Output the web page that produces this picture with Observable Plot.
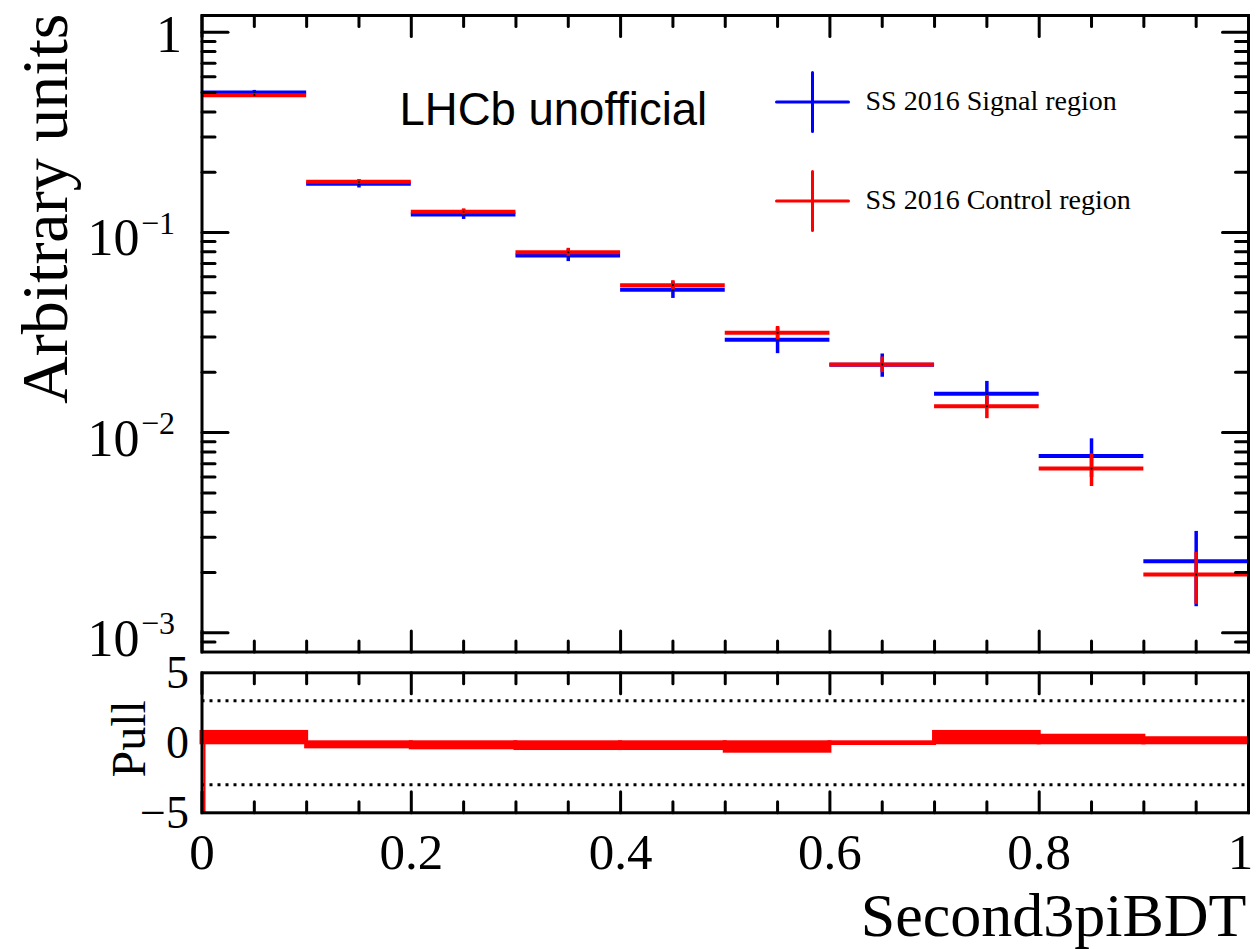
<!DOCTYPE html>
<html>
<head>
<meta charset="utf-8">
<script src="https://cdn.jsdelivr.net/npm/d3@7"></script>
<script src="https://cdn.jsdelivr.net/npm/@observablehq/plot@0.6"></script>
<style>
html, body { margin: 0; padding: 0; background: #fff; overflow: hidden; }
#chart svg { display: block; overflow: visible; }
</style>
</head>
<body>
<div id="chart"></div>
<script>
// ---------------- data ----------------
const binEdges = [0, 0.1, 0.2, 0.3, 0.4, 0.5, 0.6, 0.7, 0.8, 0.9, 1.0];
const signalValues  = [0.500, 0.1749, 0.1229, 0.0767, 0.0517, 0.0291, 0.0218, 0.01562, 0.00764, 0.00228];
const signalErrors  = [0.012, 0.0082, 0.0068, 0.0052, 0.0049, 0.0043, 0.0029, 0.0024, 0.00167, 0.00093];
const controlValues = [0.4845, 0.179, 0.1267, 0.0796, 0.0545, 0.0315, 0.0219, 0.01354, 0.00661, 0.001955];
const controlErrors = [0.005, 0.004, 0.0044, 0.0037, 0.0029, 0.0024, 0.00197, 0.0018, 0.00123, 0.00057];
const pullValues    = [0.74, -0.29, -0.36, -0.41, -0.41, -0.6, -0.05, 0.74, 0.47, 0.29];
const pullUnderflow = [{x: 0, pull: -5}];
const pullBand = [-3, 3];

const seriesNames  = ["SS 2016 Signal region", "SS 2016 Control region"];
const seriesColors = ["#0000ff", "#ff0000"];

const xMajorTicks = [0, 0.2, 0.4, 0.6, 0.8, 1];
const xTickLabels = ["0", "0.2", "0.4", "0.6", "0.8", "1"];
const xMinorTicks = [0.05, 0.1, 0.15, 0.25, 0.3, 0.35, 0.45, 0.5, 0.55, 0.65, 0.7, 0.75, 0.85, 0.9, 0.95];
const yMajorTicks = [1, 0.1, 0.01, 0.001];
const yTickBase = ["1", "10", "10", "10"];
const yTickExponent = ["", "\u22121", "\u22122", "\u22123"];
const pullTicks = [5, 0, -5];
const pullTickLabels = ["5", "0", "\u22125"];

const yDomain = [8.02e-4, 1.212];
const yMinorTicks = [];
for (let e = -4; e <= 0; e++) for (let k = 2; k <= 9; k++) {
  const v = k * Math.pow(10, e);
  if (v > yDomain[0] && v < yDomain[1]) yMinorTicks.push(v);
}

// ---------------- tables ----------------
const bins = d3.range(binEdges.length - 1).map(i => ({lo: binEdges[i], hi: binEdges[i + 1], c: (binEdges[i] + binEdges[i + 1]) / 2}));
const series = [
  {name: seriesNames[0], color: seriesColors[0], rows: bins.map((b, i) => ({...b, v: signalValues[i], e: signalErrors[i]}))},
  {name: seriesNames[1], color: seriesColors[1], rows: bins.map((b, i) => ({...b, v: controlValues[i], e: controlErrors[i]}))}
];
const pullRows = bins.map((b, i) => ({...b, pull: pullValues[i]}));
const yLabelRows = yMajorTicks.map((v, i) => ({v, base: yTickBase[i], exp: yTickExponent[i]}));
const xLabelRows = xMajorTicks.map((v, i) => ({v, label: xTickLabels[i]}));

// ---------------- helpers ----------------
const SERIF = "Liberation Serif";
const tickShape = {draw(ctx, l) { ctx.moveTo(0, 0); ctx.lineTo(0, -l); }};
const crossShape = {draw(ctx, l) { ctx.moveTo(-36, 0); ctx.lineTo(36, 0); ctx.moveTo(0, -29.5); ctx.lineTo(0, 29.5); }};

function edgeTicks(values, side, length) {
  const common = {length, anchor: "start", shape: tickShape, stroke: "black", strokeWidth: 3};
  if (side === "bottom") return Plot.vector(values, {...common, x: d => d, frameAnchor: "bottom", rotate: 0});
  if (side === "top") return Plot.vector(values, {...common, x: d => d, frameAnchor: "top", rotate: 180});
  if (side === "left") return Plot.vector(values, {...common, y: d => d, frameAnchor: "left", rotate: 90});
  return Plot.vector(values, {...common, y: d => d, frameAnchor: "right", rotate: -90});
}

const W = 1258;
const ML = 201.5, MR = 10;

// ---------------- top panel ----------------
const topH = 662, topMT = 15, topMB = 10.5;
const dataMarks = [];
for (const s of series) {
  dataMarks.push(Plot.ruleY(s.rows, {x1: "lo", x2: "hi", y: "v", stroke: s.color, strokeWidth: 4}));
  dataMarks.push(Plot.ruleX(s.rows, {x: "c", y1: d => d.v - d.e, y2: d => d.v + d.e, stroke: s.color, strokeWidth: 3.5}));
  dataMarks.push(Plot.dot(s.rows, {x: "c", y: "v", r: 1.1, fill: "black"}));
}
const legendMarks = [];
series.forEach((s, i) => {
  const dy = 101 - topMT + i * 99;
  legendMarks.push(Plot.vector([s.name], {frameAnchor: "top-left", dx: 812 - ML, dy, length: 1, shape: crossShape, stroke: s.color, strokeWidth: 3}));
  legendMarks.push(Plot.text([s.name], {text: d => d, frameAnchor: "top-left", dx: 865 - ML, dy, textAnchor: "start", lineAnchor: "middle", fontSize: 28, fontFamily: SERIF}));
});

const mainPanel = Plot.plot({
  width: W, height: topH,
  marginLeft: ML, marginRight: MR, marginTop: topMT, marginBottom: topMB,
  style: {fontFamily: SERIF, background: "white"},
  x: {domain: [0, 1], axis: null},
  y: {type: "log", domain: yDomain, axis: null},
  marks: [
    ...dataMarks,
    Plot.text(["LHCb unofficial"], {text: d => d, frameAnchor: "top-left", dx: 399 - ML, dy: 124 - topMT, textAnchor: "start", lineAnchor: "bottom", fontSize: 45.5, fontFamily: "Liberation Sans"}),
    ...legendMarks,
    edgeTicks(xMajorTicks, "bottom", 21), edgeTicks(xMinorTicks, "bottom", 11),
    edgeTicks(xMajorTicks, "top", 21), edgeTicks(xMinorTicks, "top", 11),
    edgeTicks(yMajorTicks, "left", 26), edgeTicks(yMinorTicks, "left", 13),
    edgeTicks(yMajorTicks, "right", 26), edgeTicks(yMinorTicks, "right", 13),
    Plot.text(yLabelRows.filter(r => !r.exp), {y: "v", text: "base", frameAnchor: "left", textAnchor: "end", dx: -20, dy: 20, lineAnchor: "bottom", fontSize: 52}),
    Plot.text(yLabelRows.filter(r => r.exp), {y: "v", text: "base", frameAnchor: "left", textAnchor: "end", dx: -62.5, dy: 23, lineAnchor: "bottom", fontSize: 52}),
    Plot.text(yLabelRows.filter(r => r.exp), {y: "v", text: "exp", frameAnchor: "left", textAnchor: "start", dx: -61, dy: 1.5, lineAnchor: "bottom", fontSize: 32}),
    Plot.text(["Arbitrary units"], {text: d => d, frameAnchor: "top-left", dx: 66 - ML, dy: 13 - topMT, rotate: -90, textAnchor: "end", lineAnchor: "bottom", fontSize: 66}),
    Plot.frame({stroke: "black", strokeWidth: 3})
  ]
});

// ---------------- pull panel ----------------
const botH = 949 - topH, botMT = 672.3 - topH, botMB = botH - (812.3 - topH);
const pullPanel = Plot.plot({
  width: W, height: botH,
  marginLeft: ML, marginRight: MR, marginTop: botMT, marginBottom: botMB,
  style: {fontFamily: SERIF, background: "white"},
  x: {domain: [0, 1], axis: null},
  y: {domain: [-5, 5], axis: null},
  marks: [
    Plot.ruleY(pullBand, {stroke: "black", strokeWidth: 3, strokeDasharray: "3,5"}),
    Plot.rect(pullRows, {x1: "lo", x2: "hi", y1: 0, y2: "pull", fill: "#ff0000", stroke: "#ff0000", strokeWidth: 4}),
    Plot.ruleX(pullUnderflow, {x: "x", y1: 0, y2: "pull", stroke: "#ff0000", strokeWidth: 2, dx: 2.5}),
    edgeTicks(xMajorTicks, "bottom", 21), edgeTicks(xMinorTicks, "bottom", 11),
    edgeTicks(xMajorTicks, "top", 21), edgeTicks(xMinorTicks, "top", 11),
    Plot.text(pullTicks, {y: d => d, text: (d, i) => pullTickLabels[i], frameAnchor: "left", textAnchor: "end", dx: -13, lineAnchor: "middle", fontSize: 46}),
    Plot.text(xLabelRows.slice(0, -1), {x: "v", text: "label", frameAnchor: "bottom", dy: 55.7, lineAnchor: "bottom", fontSize: 51}),
    Plot.text(xLabelRows.slice(-1), {x: "v", text: "label", frameAnchor: "bottom", dx: -8, dy: 55.7, lineAnchor: "bottom", fontSize: 51}),
    Plot.text(["Pull"], {text: d => d, frameAnchor: "left", dx: 144 - ML, dy: -4, rotate: -90, textAnchor: "middle", lineAnchor: "bottom", fontSize: 48}),
    Plot.text(["Second3piBDT"], {text: d => d, frameAnchor: "bottom-right", dx: -2, dy: 122.7, textAnchor: "end", lineAnchor: "bottom", fontSize: 62}),
    Plot.frame({stroke: "black", strokeWidth: 3})
  ]
});

const chart = document.getElementById("chart");
chart.appendChild(mainPanel);
chart.appendChild(pullPanel);
</script>
</body>
</html>
